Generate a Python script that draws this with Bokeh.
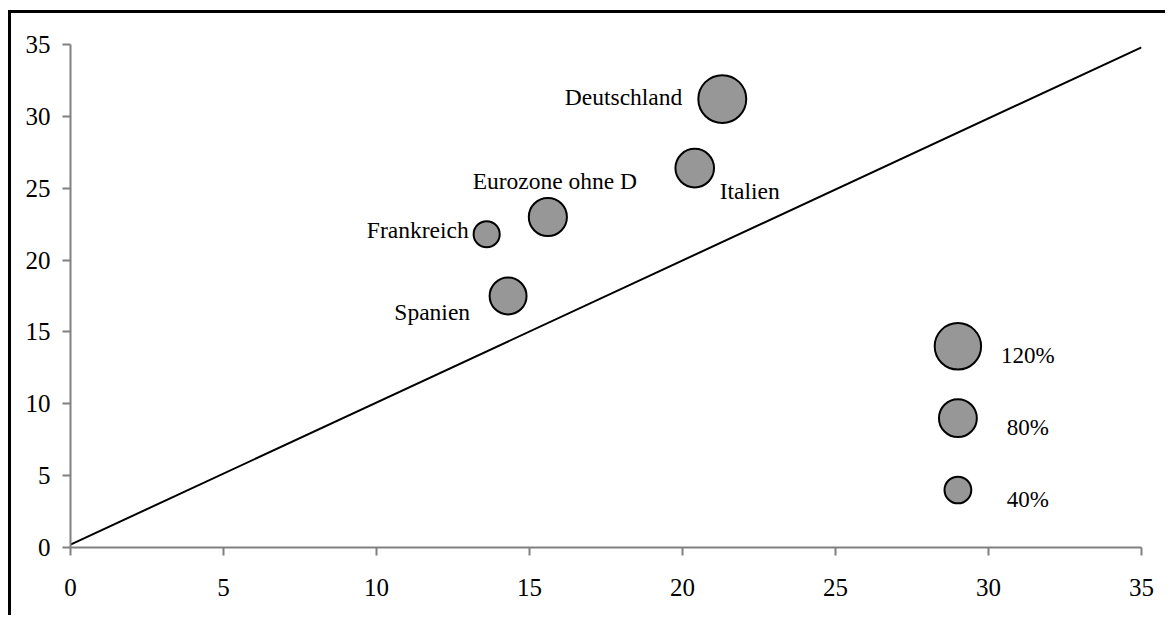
from bokeh.plotting import figure
from bokeh.models import ColumnDataSource, Range1d, FixedTicker
from bokeh.core.properties import value
from bokeh.embed import file_html
from bokeh.resources import INLINE
import math

# ---- data ----
countries = ["Deutschland", "Italien", "Eurozone ohne D", "Frankreich", "Spanien"]
x_vals = [21.3, 20.4, 15.6, 13.6, 14.3]
y_vals = [31.2, 26.4, 23.0, 21.8, 17.5]
bubble_pct = [128, 83, 81, 38, 76]

legend_labels = ["120%", "80%", "40%"]
legend_pct = [120, 80, 40]
legend_x = [29, 29, 29]
legend_y = [14, 9, 4]

diag_x = [0, 35]
diag_y = [0.2, 34.8]

x_ticks = [0, 5, 10, 15, 20, 25, 30, 35]
y_ticks = [0, 5, 10, 15, 20, 25, 30, 35]

# ---- styles ----
SIZE_K = 4.236  # px diameter per sqrt(percent)
FONT = "Liberation Serif"
label_dx = [-40, 25, 7, -18, -38]
label_dy = [-2, 23, -36, -4, 16]
label_align = ["right", "left", "center", "right", "right"]

p = figure(width=1157, height=605, output_backend="svg", toolbar_location=None,
           x_range=Range1d(0, 35), y_range=Range1d(0, 35),
           min_border_left=59, min_border_right=27, min_border_top=31, min_border_bottom=71,
           styles={"border-left": "3px solid black", "border-top": "3px solid black",
                   "margin-left": "8px", "margin-top": "10px"})
p.outline_line_color = None
p.xgrid.visible = False
p.ygrid.visible = False
p.background_fill_color = "white"
p.border_fill_color = "white"

for ax in (p.xaxis[0], p.yaxis[0]):
    ax.axis_line_color = "#808080"
    ax.axis_line_width = 2
    ax.major_tick_line_color = "#808080"
    ax.major_tick_line_width = 2
    ax.major_tick_out = 8
    ax.major_tick_in = 0
    ax.minor_tick_line_color = None
    ax.major_label_text_font = FONT
    ax.major_label_text_font_size = "25px"
    ax.major_label_text_color = "black"
p.xaxis.ticker = FixedTicker(ticks=x_ticks)
p.yaxis.ticker = FixedTicker(ticks=y_ticks)
p.xaxis.major_label_standoff = 23
p.yaxis.major_label_standoff = 12

p.line(diag_x, diag_y, line_color="black", line_width=2)

src = ColumnDataSource(dict(
    x=x_vals, y=y_vals, name=countries,
    size=[SIZE_K * math.sqrt(v) for v in bubble_pct],
    dx=label_dx, dy=label_dy, align=label_align))
p.scatter("x", "y", size="size", source=src, fill_color="#979797",
          line_color="black", line_width=2)
p.text("x", "y", text="name", source=src, x_offset="dx", y_offset="dy",
       text_align="align", text_baseline="alphabetic",
       text_font=value(FONT), text_font_size="23.5px", text_color="black")

lsrc = ColumnDataSource(dict(
    x=legend_x, y=legend_y, name=legend_labels,
    size=[SIZE_K * math.sqrt(v) for v in legend_pct]))
p.scatter("x", "y", size="size", source=lsrc, fill_color="#979797",
          line_color="black", line_width=2)
p.text("x", "y", text="name", source=lsrc, x_offset=70, y_offset=9,
       text_align="center", text_baseline="alphabetic",
       text_font=value(FONT), text_font_size="23px", text_color="black")

open("out.html", "w").write(file_html(p, INLINE))
